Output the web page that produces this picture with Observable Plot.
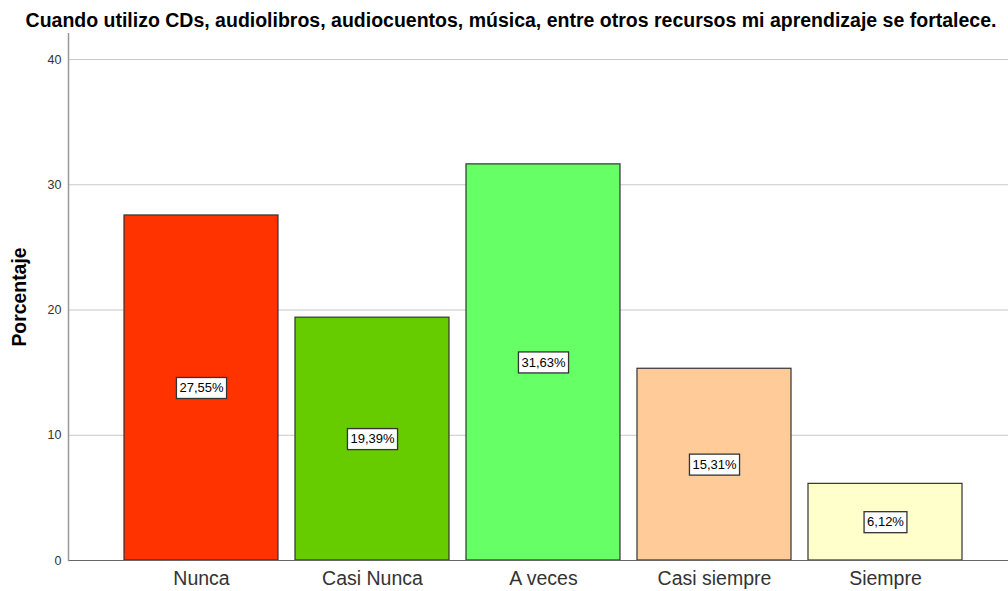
<!DOCTYPE html>
<html>
<head>
<meta charset="utf-8">
<script src="https://cdn.jsdelivr.net/npm/d3@7"></script>
<script src="https://cdn.jsdelivr.net/npm/@observablehq/plot@0.6"></script>
<style>
  html, body { margin: 0; padding: 0; background: #fff; width: 1008px; height: 591px; overflow: hidden; }
  #title { position: absolute; left: 7px; top: 0; width: 1008px; height: 33px; text-align: center;
           font: bold 19.5px "Liberation Sans", Arial, sans-serif; line-height: 40px; color: #000; white-space: nowrap; }
  #chart { position: absolute; left: 0; top: 33px; }
</style>
</head>
<body>
<div id="title">Cuando utilizo CDs, audiolibros, audiocuentos, música, entre otros recursos mi aprendizaje se fortalece.</div>
<div id="chart"></div>
<script>
const categories = ["Nunca", "Casi Nunca", "A veces", "Casi siempre", "Siempre"];
const percentages = [27.55, 19.39, 31.63, 15.31, 6.12];
const labels = ["27,55%", "19,39%", "31,63%", "15,31%", "6,12%"];
const colors = ["#FF3300", "#66CC00", "#66FF66", "#FFCC99", "#FFFFCC"];
const yTicks = [0, 10, 20, 30, 40];

const data = categories.map((c, i) => ({cat: c, v: percentages[i], label: labels[i]}));

const measureCanvas = document.createElement("canvas").getContext("2d");
const labelFont = '13px "Liberation Sans", Arial, sans-serif';
measureCanvas.font = labelFont;

function boxedText(index, scales, values, dimensions, context, next) {
  const g = next(index, scales, values, dimensions, context);
  const texts = Array.from(g.querySelectorAll("text"));
  texts.forEach((t, k) => {
    const i = index[k];
    const w = measureCanvas.measureText(t.textContent).width + 6;
    const h = 21;
    const x = values.x[i], y = values.y[i];
    const r = document.createElementNS("http://www.w3.org/2000/svg", "rect");
    r.setAttribute("x", x - w / 2);
    r.setAttribute("y", y - h / 2);
    r.setAttribute("width", w);
    r.setAttribute("height", h);
    r.setAttribute("fill", "#fff");
    r.setAttribute("stroke", "#333");
    r.setAttribute("stroke-width", 1.3);
    t.parentNode.insertBefore(r, t);
  });
  return g;
}

const chart = Plot.plot({
  width: 1008,
  height: 558,
  marginLeft: 68,
  marginRight: 0,
  marginTop: 0,
  marginBottom: 31,
  style: {fontFamily: '"Liberation Sans", Arial, sans-serif', background: "#fff"},
  x: {domain: categories, paddingInner: 0.1, paddingOuter: 0.29, align: 0.548, label: null},
  y: {domain: [0, 42.08], label: null},
  color: {domain: categories, range: colors},
  marks: [
    Plot.gridY(yTicks, {stroke: "#c8c8c8", strokeOpacity: 1, strokeWidth: 1}),
    Plot.axisY(yTicks, {tickSize: 0, tickPadding: 7, fontSize: 12.5, fill: "#333", label: null, tickFormat: d => d}),
    Plot.axisX({tickSize: 0, tickPadding: 11, fontSize: 19.5, fill: "#333", label: null}),
    Plot.barY(data, {x: "cat", y: "v", fill: "cat", stroke: "#333", strokeWidth: 1.2}),
    Plot.ruleY([0], {stroke: "#666", strokeWidth: 1.2}),
    Plot.frame({anchor: "left", stroke: "#999", strokeWidth: 1.5}),
    Plot.text(data, {x: "cat", y: d => d.v / 2, text: "label", fontSize: 13, fill: "#000", render: boxedText}),
    Plot.text(["Porcentaje"], {frameAnchor: "left", textAnchor: "middle", dx: -49, rotate: -90, fontSize: 19.4, fontWeight: "bold", fill: "#000"})
  ]
});
document.getElementById("chart").appendChild(chart);
</script>
</body>
</html>
